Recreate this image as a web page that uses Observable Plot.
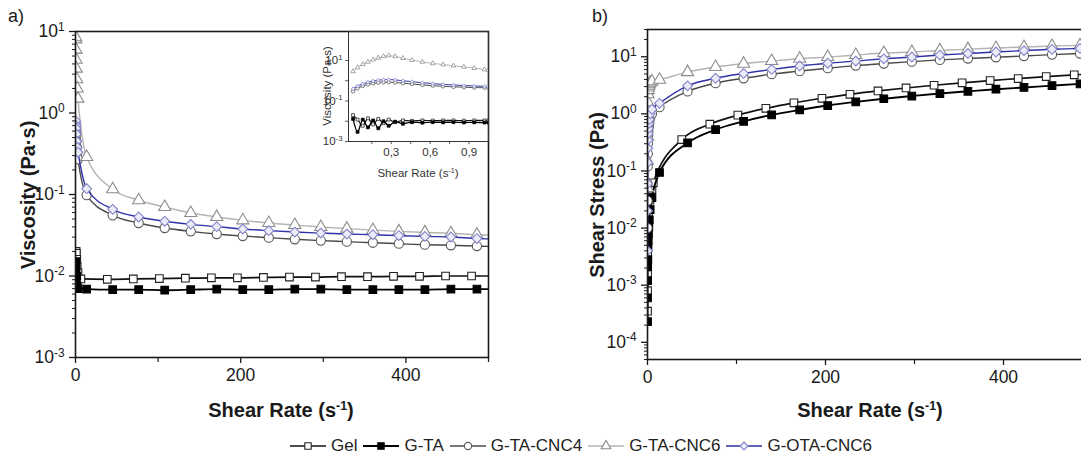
<!DOCTYPE html>
<html><head><meta charset="utf-8">
<script src="https://cdn.jsdelivr.net/npm/d3@7"></script>
<script src="https://cdn.jsdelivr.net/npm/@observablehq/plot@0.6"></script>
<style>
html,body{margin:0;padding:0;background:#fff;overflow:hidden;}
#root{position:relative;width:1081px;height:466px;overflow:hidden;font-family:"Liberation Sans",Arial,sans-serif;color:#1a1a1a;}
#root svg{max-width:none !important;}
.abs{position:absolute;}
.c{transform:translate(-50%,-50%);white-space:nowrap;}
.rot{transform:translate(-50%,-50%) rotate(-90deg);white-space:nowrap;}
.title{font-weight:bold;font-size:20px;}
.ititle{font-size:11.5px;color:#333;}
sup{font-size:0.62em;vertical-align:0.55em;line-height:0;}
#legend{display:flex;align-items:center;font-size:17px;white-space:nowrap;color:#222;}
#legend .it{display:flex;align-items:center;margin-right:6px;}
#legend svg{margin-right:5px;}
</style></head>
<body><div id="root">
<div class="abs" style="left:8px;top:6px;font-size:18px;">a)</div>
<div class="abs" style="left:592px;top:6px;font-size:18px;">b)</div>
<div id="pa" class="abs" style="left:0;top:0;width:500px;"></div>
<div id="pb" class="abs" style="left:560px;top:0;width:560px;"></div>
<div id="pi" class="abs" style="left:300px;top:0;width:190px;"></div>
<div class="abs rot title" style="left:28px;top:195px;">Viscosity (Pa·s)</div>
<div class="abs c title" style="left:281px;top:410px;">Shear Rate (s<sup>-1</sup>)</div>
<div class="abs rot title" style="left:597px;top:195px;">Shear Stress (Pa)</div>
<div class="abs c title" style="left:870px;top:410px;">Shear Rate (s<sup>-1</sup>)</div>
<div class="abs rot ititle" style="left:327px;top:86px;">Viscosity (Pa·s)</div>
<div class="abs c ititle" style="left:418px;top:173px;font-size:11.5px;">Shear Rate (s<sup>-1</sup>)</div>
<div id="legend" class="abs" style="left:290px;top:436px;"></div>
</div>
<script>
// ---------- data ----------
const seriesNames = ["Gel", "G-TA", "G-TA-CNC4", "G-TA-CNC6", "G-OTA-CNC6"];

// Panel a: viscosity (Pa·s) vs shear rate (1/s)
const lowRateA = [0.1, 0.2, 0.3, 0.5, 0.7, 1, 1.5, 2, 3];
const rateA = [13.5, 45, 76.5, 108, 139.5, 171, 202.5, 234, 265.5, 297, 328.5, 360, 391.5, 423, 454.5, 486, 500];
const rateGel = [6.5, 38.5, 70, 101.5, 133, 164.5, 196, 227.5, 259, 290.5, 322, 353.5, 385, 416.5, 448, 479.5, 500];

const viscGelLow = [0.012, 0.014, 0.016, 0.018, 0.02, 0.019, 0.016, 0.013, 0.011];
const viscGel = [0.0092, 0.0091, 0.0092, 0.0093, 0.0094, 0.0095, 0.0095, 0.0096, 0.0097, 0.0097, 0.0098, 0.0098, 0.0099, 0.0099, 0.0100, 0.0100, 0.0100];
const viscGTALow = [0.012, 0.015, 0.011, 0.009, 0.013, 0.008, 0.010, 0.0075, 0.007];
const viscGTA = [0.0069, 0.0068, 0.0068, 0.0067, 0.0068, 0.0069, 0.0068, 0.0068, 0.0069, 0.0069, 0.0068, 0.0068, 0.0068, 0.0068, 0.0069, 0.0069, 0.0069];
const viscCNC4Low = [0.5, 0.6, 0.65, 0.6, 0.55, 0.45, 0.38, 0.32, 0.27];
const viscCNC4 = [0.098, 0.0555, 0.0447, 0.0388, 0.0353, 0.0327, 0.0309, 0.0295, 0.0282, 0.0272, 0.0264, 0.0256, 0.0249, 0.0242, 0.0238, 0.0233, 0.0231];
const viscCNC6Low = [6, 8, 8.5, 6, 4.5, 3.5, 2.6, 2.0, 1.5];
const viscCNC6 = [0.289, 0.116, 0.085, 0.0702, 0.0593, 0.053, 0.0482, 0.0447, 0.0422, 0.0399, 0.0381, 0.0366, 0.0353, 0.0343, 0.0334, 0.0321, 0.0318];
const viscOTALow = [0.6, 0.75, 0.8, 0.7, 0.65, 0.55, 0.45, 0.38, 0.33];
const viscOTA = [0.118, 0.0658, 0.053, 0.0469, 0.043, 0.0403, 0.0377, 0.036, 0.0346, 0.0336, 0.0327, 0.0321, 0.0313, 0.0306, 0.0301, 0.0288, 0.0285];

// Panel b: shear stress (Pa) vs shear rate (1/s)
const lowRateB = [0.02, 0.05, 0.1, 0.2, 0.35, 0.5, 0.75, 1, 1.5, 2, 3, 5];
const stressGelLow = [0.00035, 0.0008, 0.0016, 0.0036, 0.0055, 0.0085, 0.012, 0.016, 0.021, 0.025, 0.032, 0.048];
const stressGel = [0.062, 0.355, 0.66, 0.95, 1.25, 1.56, 1.87, 2.2, 2.52, 2.84, 3.17, 3.5, 3.83, 4.15, 4.5, 4.82, 5.0];
const stressGTALow = [0.00023, 0.0006, 0.0012, 0.0021, 0.0028, 0.0045, 0.006, 0.0078, 0.0105, 0.014, 0.021, 0.034];
const stressGTA = [0.094, 0.31, 0.53, 0.74, 0.96, 1.17, 1.4, 1.62, 1.84, 2.05, 2.27, 2.48, 2.7, 2.9, 3.12, 3.35, 3.45];
const stressCNC4Low = [0.01, 0.03, 0.06, 0.12, 0.2, 0.3, 0.42, 0.5, 0.6, 0.7, 0.85, 1.0];
const stressCNC4 = [1.31, 2.47, 3.45, 4.2, 4.96, 5.6, 6.3, 7.0, 7.6, 8.2, 8.8, 9.3, 9.8, 10.3, 10.9, 11.4, 11.6];
const stressCNC6Low = [0.05, 0.15, 0.4, 1.0, 1.6, 2.2, 2.6, 2.9, 3.1, 3.3, 3.5, 3.7];
const stressCNC6 = [3.96, 5.38, 6.6, 7.55, 8.4, 9.25, 9.87, 10.7, 11.6, 12.1, 12.9, 13.6, 14.2, 14.8, 15.4, 15.8, 16.0];
const stressOTALow = [0.004, 0.02, 0.06, 0.14, 0.25, 0.35, 0.45, 0.55, 0.68, 0.8, 1.0, 1.2];
const stressOTA = [1.53, 3.1, 4.2, 5.1, 6.0, 6.9, 7.7, 8.4, 9.2, 9.9, 10.7, 11.4, 12.1, 12.8, 13.5, 14.0, 14.3];

// Inset: viscosity at low shear rate
const insetRate = [0.005, 0.04, 0.08, 0.12, 0.16, 0.20, 0.24, 0.28, 0.33, 0.39, 0.46, 0.54, 0.62, 0.70, 0.78, 0.86, 0.94, 1.02, 1.05];
const insetGel = [0.02, 0.012, 0.006, 0.014, 0.007, 0.013, 0.008, 0.012, 0.009, 0.011, 0.0105, 0.011, 0.0108, 0.011, 0.011, 0.0108, 0.011, 0.011, 0.011];
const insetGTA = [0.013, 0.003, 0.012, 0.005, 0.011, 0.0045, 0.010, 0.006, 0.0095, 0.0075, 0.009, 0.0085, 0.009, 0.0088, 0.009, 0.0087, 0.0088, 0.0086, 0.0086];
const insetCNC4 = [0.3, 0.42, 0.55, 0.66, 0.75, 0.81, 0.84, 0.85, 0.82, 0.76, 0.69, 0.62, 0.57, 0.53, 0.5, 0.48, 0.46, 0.45, 0.45];
const insetCNC6 = [2.9, 4.5, 6.5, 8.5, 11, 13.5, 16, 17.5, 16, 13, 10.5, 8.5, 7.2, 6.3, 5.5, 4.8, 4.2, 3.6, 3.4];
const insetOTA = [0.4, 0.55, 0.7, 0.85, 0.97, 1.07, 1.13, 1.15, 1.1, 1.0, 0.9, 0.8, 0.72, 0.66, 0.62, 0.58, 0.55, 0.53, 0.52];

// tick labels
const xTicksMain = [0, 200, 400];
const xTicksMinor = [100, 300, 500];
const yTicksA = [1e-3, 1e-2, 1e-1, 1, 10];
const yTicksB = [1e-4, 1e-3, 1e-2, 1e-1, 1, 10];
const insetXTicks = [0.3, 0.6, 0.9];
const insetXLabels = ["0,3", "0,6", "0,9"];
const insetXMinor = [0.15, 0.45, 0.75];
const insetYTicks = [1e-3, 1e-1, 10];
const insetYMinor = [1e-2, 1];

// ---------- build tables ----------
function rows(name, xs, ys, marker = true) {
  return xs.map((x, i) => ({s: name, x, y: ys[i], m: marker && x < 495}));
}
const dataA = [
  ...rows("Gel", [...lowRateA, ...rateGel], [...viscGelLow, ...viscGel]),
  ...rows("G-TA", [...lowRateA, ...rateA], [...viscGTALow, ...viscGTA]),
  ...rows("G-TA-CNC4", [...lowRateA, ...rateA], [...viscCNC4Low, ...viscCNC4]),
  ...rows("G-TA-CNC6", [...lowRateA, ...rateA], [...viscCNC6Low, ...viscCNC6]),
  ...rows("G-OTA-CNC6", [...lowRateA, ...rateA], [...viscOTALow, ...viscOTA])
];
const dataB = [
  ...rows("Gel", [...lowRateB, ...rateGel], [...stressGelLow, ...stressGel]),
  ...rows("G-TA", [...lowRateB, ...rateA], [...stressGTALow, ...stressGTA]),
  ...rows("G-TA-CNC4", [...lowRateB, ...rateA], [...stressCNC4Low, ...stressCNC4]),
  ...rows("G-TA-CNC6", [...lowRateB, ...rateA], [...stressCNC6Low, ...stressCNC6]),
  ...rows("G-OTA-CNC6", [...lowRateB, ...rateA], [...stressOTALow, ...stressOTA])
];
const dataI = [
  ...rows("Gel", insetRate, insetGel),
  ...rows("G-TA", insetRate, insetGTA),
  ...rows("G-TA-CNC4", insetRate, insetCNC4),
  ...rows("G-TA-CNC6", insetRate, insetCNC6),
  ...rows("G-OTA-CNC6", insetRate, insetOTA)
];

const styles = {
  "Gel":        {line: "#111", lw: 1.7, symbol: "square",   fill: "#fff",    stroke: "#222",    r: 4.3},
  "G-TA":       {line: "#000", lw: 1.9, symbol: "square",   fill: "#000",    stroke: "#000",    r: 4.3},
  "G-TA-CNC4":  {line: "#4a4a4a", lw: 1.4, symbol: "circle", fill: "#fff",   stroke: "#5a5a5a", r: 4.6},
  "G-TA-CNC6":  {line: "#b4b4b4", lw: 1.4, symbol: "triangle", fill: "#fff", stroke: "#8c8c8c", r: 4.5},
  "G-OTA-CNC6": {line: "#3030a8", lw: 1.4, symbol: "diamond2", fill: "#ececf8", stroke: "#8484cc", r: 4.4}
};

function seriesMarks(data, k = 1, lwk = 1) {
  return seriesNames.flatMap(n => {
    const st = styles[n];
    const d = data.filter(r => r.s === n);
    return [
      Plot.line(d, {x: "x", y: "y", stroke: st.line, strokeWidth: st.lw * lwk, curve: "monotone-x", clip: true}),
      Plot.dot(d.filter(r => r.m), {x: "x", y: "y", symbol: st.symbol, r: st.r * k, fill: st.fill, stroke: st.stroke, strokeWidth: 1.1 * Math.max(k, 0.7), clip: true})
    ];
  });
}

const powFmt = d => "10^" + Math.round(Math.log10(d));
function minorLog(lo, hi) {
  const out = [];
  for (let e = lo; e < hi; e++) for (let m = 2; m <= 9; m++) out.push(m * Math.pow(10, e));
  return out;
}
function supLabels(svg) {
  d3.select(svg).selectAll("text").each(function () {
    const m = /^10\^(-?\d+)$/.exec(this.textContent);
    if (!m) return;
    const sel = d3.select(this);
    sel.text(null);
    sel.append("tspan").text("10");
    sel.append("tspan").attr("dy", "-0.55em").attr("font-size", "0.68em").text(m[1]);
  });
  return svg;
}
const font = {fontFamily: "'Liberation Sans', Arial, sans-serif", color: "#1a1a1a", background: "transparent", overflow: "visible", maxWidth: "none"};

// ---------- panel a ----------
const pa = Plot.plot({
  width: 500, height: 400, marginLeft: 75, marginRight: 12, marginTop: 31, marginBottom: 43,
  style: {...font, fontSize: "17.5px"},
  x: {domain: [0, 500]},
  y: {type: "log", domain: [1e-3, 10]},
  marks: [
    Plot.axisY({ticks: minorLog(-3, 1), tickSize: 3, tickFormat: () => "", label: null, strokeWidth: 1}),
    Plot.axisY({ticks: yTicksA, tickSize: 6, tickPadding: 5, tickFormat: powFmt, label: null, fontSize: 17.5, strokeWidth: 1.3}),
    Plot.axisX({ticks: xTicksMinor, tickSize: 5, tickFormat: () => "", label: null, strokeWidth: 1.2}),
    Plot.axisX({ticks: xTicksMain, tickSize: 6, tickPadding: 5, label: null, fontSize: 17.5, strokeWidth: 1.3}),
    ...seriesMarks(dataA),
    Plot.frame({stroke: "#1a1a1a", strokeWidth: 1.6})
  ]
});
document.getElementById("pa").append(supLabels(pa));

// ---------- panel b ----------
const pb = Plot.plot({
  width: 560, height: 400, marginLeft: 87, marginRight: 28, marginTop: 29, marginBottom: 41,
  style: {...font, fontSize: "17.5px"},
  x: {domain: [0, 500]},
  y: {type: "log", domain: [5e-5, 30]},
  marks: [
    Plot.axisY({ticks: minorLog(-5, 2).filter(v => v >= 5e-5 && v <= 30), tickSize: 3, tickFormat: () => "", label: null, strokeWidth: 1}),
    Plot.axisY({ticks: yTicksB, tickSize: 6, tickPadding: 5, tickFormat: powFmt, label: null, fontSize: 17.5, strokeWidth: 1.3}),
    Plot.axisX({ticks: xTicksMinor, tickSize: 5, tickFormat: () => "", label: null, strokeWidth: 1.2}),
    Plot.axisX({ticks: xTicksMain, tickSize: 6, tickPadding: 5, label: null, fontSize: 17.5, strokeWidth: 1.3}),
    ...seriesMarks(dataB),
    Plot.frame({stroke: "#1a1a1a", strokeWidth: 1.6})
  ]
});
document.getElementById("pb").append(supLabels(pb));

// ---------- inset ----------
const pi = Plot.plot({
  width: 190, height: 160, marginLeft: 48, marginRight: 2, marginTop: 31, marginBottom: 19,
  style: {...font, fontSize: "11px", color: "#333"},
  x: {domain: [-0.03, 1.05]},
  y: {type: "log", domain: [1e-3, 270]},
  marks: [
    Plot.axisY({ticks: insetYMinor, tickSize: 3, tickFormat: () => "", label: null, strokeWidth: 0.8}),
    Plot.axisY({ticks: insetYTicks, tickSize: 3, tickPadding: 3, tickFormat: powFmt, label: null, fontSize: 11.5, strokeWidth: 0.8}),
    Plot.axisX({ticks: insetXMinor, tickSize: 3, tickFormat: () => "", label: null, strokeWidth: 0.8}),
    Plot.axisX({ticks: insetXTicks, tickSize: 3, tickPadding: 3, tickFormat: (d, i) => insetXLabels[i], label: null, fontSize: 11.5, strokeWidth: 0.8}),
    ...seriesMarks(dataI, 0.38, 0.7),
    Plot.frame({stroke: "#333", strokeWidth: 1})
  ]
});
document.getElementById("pi").append(supLabels(pi));

// ---------- legend ----------
const legend = d3.select("#legend");
for (const n of seriesNames) {
  const st = styles[n];
  const it = legend.append("div").attr("class", "it");
  const svg = it.append("svg").attr("width", 36).attr("height", 16);
  svg.append("line").attr("x1", 0).attr("x2", 36).attr("y1", 8).attr("y2", 8).attr("stroke", st.line).attr("stroke-width", st.lw);
  const sym = {square: d3.symbolSquare, circle: d3.symbolCircle, triangle: d3.symbolTriangle, diamond2: d3.symbolDiamond2}[st.symbol];
  svg.append("path").attr("d", d3.symbol(sym, Math.PI * 3.6 * 3.6)()).attr("transform", "translate(18,8)")
    .attr("fill", st.fill).attr("stroke", st.stroke).attr("stroke-width", 1.1);
  it.append("span").text(n);
}
</script>
</body></html>
